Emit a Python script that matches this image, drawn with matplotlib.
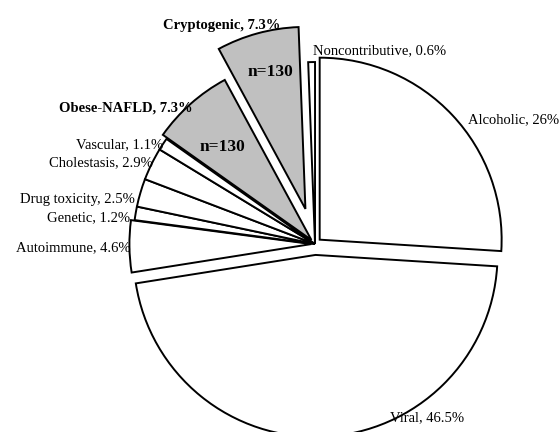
import matplotlib.pyplot as plt

# Causes of liver disease, share of cases (%), clockwise from 12 o'clock
causes = ['Alcoholic', 'Viral', 'Autoimmune', 'Genetic', 'Drug toxicity',
          'Cholestasis', 'Vascular', 'Obese-NAFLD', 'Cryptogenic',
          'Noncontributive']
shares = [26, 46.5, 4.6, 1.2, 2.5, 2.9, 1.1, 7.3, 7.3, 0.6]
highlight = ['Obese-NAFLD', 'Cryptogenic']
n_label = 'n=130'

# slice offsets and label placement (pie radius = 1)
explode = [0.035, 0.06, 0.02, 0, 0, 0, 0, 0.03, 0.2, 0.0]
label_xy = [(0.843, 0.681), (0.412, -0.956), (-1.016, -0.022), (-1.016, 0.143),
            (-0.989, 0.242), (-0.890, 0.445), (-0.835, 0.544), (-0.670, 0.747),
            (-0.192, 1.203), (-0.011, 1.06)]
label_ha = ['left', 'left', 'right', 'right', 'right', 'right', 'right',
            'right', 'right', 'left']
n_xy = {'Obese-NAFLD': (-0.511, 0.533), 'Cryptogenic': (-0.247, 0.945)}

plt.rcParams['font.family'] = ['Liberation Serif', 'DejaVu Serif']

fig = plt.figure(figsize=(5.6, 4.32), dpi=100)
ax = fig.add_axes([0, 0, 1, 1])

colors = ['#c0c0c0' if c in highlight else 'white' for c in causes]
ax.pie(shares, explode=explode, colors=colors, startangle=90,
       counterclock=False, radius=1,
       wedgeprops=dict(edgecolor='black', linewidth=1.4))

for name, val, (x, y), ha in zip(causes, shares, label_xy, label_ha):
    txt = f'{name}, {val:g}%'
    weight = 'bold' if name in highlight else 'normal'
    ax.text(x, y, txt, ha=ha, va='center', fontsize=10.5, fontweight=weight)

for name, (x, y) in n_xy.items():
    ax.text(x, y, n_label, ha='center', va='center', fontsize=12.5,
            fontweight='bold')

ax.set_xlim(-1.731, 1.346)
ax.set_ylim(-1.033, 1.341)
ax.set_aspect('equal')
ax.axis('off')

fig.savefig('out.png', dpi=100)
